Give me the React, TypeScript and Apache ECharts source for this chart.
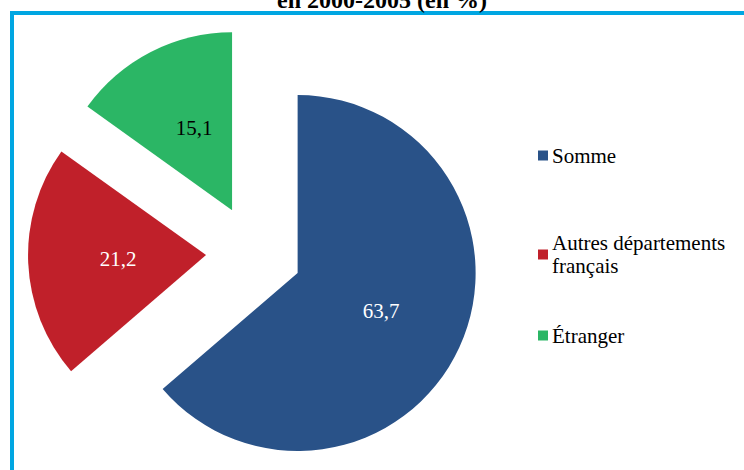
import React, { useEffect, useRef } from "react";
import * as echarts from "echarts";

const categories = ["Somme", "Autres départements français", "Étranger"];
const legendLabels = ["Somme", "Autres départements\nfrançais", "Étranger"];
const values = [63.7, 21.2, 15.1];
const colors = ["#295288", "#C0202A", "#2BB665"];
const labelColors = ["#ffffff", "#ffffff", "#000000"];
const titleText = "en 2000-2005 (en %)";

export default function App() {
  const ref = useRef<HTMLDivElement>(null);
  useEffect(() => {
    document.body.style.margin = "0";
    const chart = echarts.init(ref.current!, null, { renderer: "svg" });
    const font = "Liberation Serif";
    const legendTops = [144, 220, 324];
    const labelPads = [
      [0, 0, 0, 0],
      [0, 0, 0, 8],
      [4, 0, 0, 8],
    ];
    chart.setOption({
      animation: false,
      backgroundColor: "#ffffff",
      textStyle: { fontFamily: font },
      graphic: [
        { type: "rect", shape: { x: 10, y: 11, width: 734, height: 4 }, style: { fill: "#00A6E2" } },
        { type: "rect", shape: { x: 10, y: 11, width: 4, height: 459 }, style: { fill: "#00A6E2" } },
        {
          type: "text",
          x: 382,
          y: 12,
          style: {
            text: titleText,
            fontFamily: font,
            fontWeight: "bold",
            fontSize: 24,
            fill: "#000",
            align: "center",
            verticalAlign: "bottom",
          },
        },
      ],
      legend: categories.map((c, i) => ({
        data: [c],
        orient: "vertical",
        left: 538,
        top: legendTops[i],
        padding: 0,
        icon: "rect",
        itemWidth: 10,
        itemHeight: 10,
        itemGap: 0,
        selectedMode: false,
        formatter: () => legendLabels[i],
        textStyle: {
          fontFamily: font,
          fontSize: 21,
          color: "#000",
          lineHeight: 23,
          padding: i === 1 ? [23, 0, 0, -1] : [0, 0, 0, -1],
        },
      })),
      series: [
        {
          type: "pie",
          center: [254, 253],
          radius: 178,
          startAngle: 90,
          clockwise: true,
          selectedMode: "multiple",
          selectedOffset: 48,
          avoidLabelOverlap: false,
          label: {
            show: true,
            position: "inside",
            fontFamily: font,
            fontSize: 21,
            formatter: (p: any) => String(p.value).replace(".", ","),
          },
          labelLine: { show: false },
          emphasis: { disabled: true },
          data: categories.map((c, i) => ({
            name: c,
            value: values[i],
            selected: true,
            itemStyle: { color: colors[i] },
            label: { color: labelColors[i], padding: labelPads[i] },
          })),
        },
      ],
    });
    return () => chart.dispose();
  }, []);
  return <div ref={ref} style={{ width: 744, height: 470 }} />;
}
